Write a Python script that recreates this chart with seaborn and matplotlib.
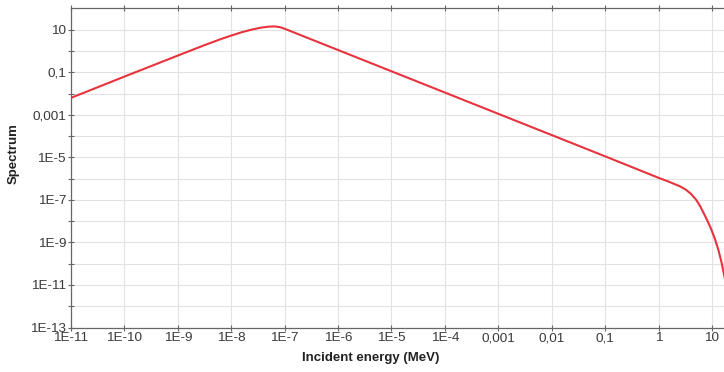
import matplotlib
matplotlib.use('Agg')
import matplotlib.pyplot as plt
from matplotlib.ticker import FixedLocator, FixedFormatter, NullFormatter
import seaborn as sns
import numpy as np
import pandas as pd

# points (log10 of energy in MeV, log10 of spectrum)
log_energy = [-11.0, -10.0, -9.0, -8.5, -8.2, -8.0, -7.8, -7.6, -7.45, -7.3, -7.18,
              -7.08, -7.0, -6.9, -6.0, -5.0, -4.0, -3.0, -2.0, -1.0, 0.0, 0.2, 0.4,
              0.5, 0.6, 0.7, 0.78, 0.87, 0.97, 1.05, 1.12, 1.18, 1.25]
log_spectrum = [-2.2, -1.2, -0.21, 0.28, 0.56, 0.73, 0.89, 1.02, 1.1, 1.15, 1.16,
                1.12, 1.05, 0.95, 0.05, -0.95, -1.95, -2.95, -3.95, -4.95, -5.96, -6.15, -6.36,
                -6.5, -6.7, -6.98, -7.3, -7.75, -8.28, -8.8, -9.35, -9.95, -10.8]

x_ticks = [1e-11, 1e-10, 1e-9, 1e-8, 1e-7, 1e-6, 1e-5, 1e-4, 1e-3, 1e-2, 1e-1, 1, 10]
x_labels = ['1E-11', '1E-10', '1E-9', '1E-8', '1E-7', '1E-6', '1E-5', '1E-4',
            '0,001', '0,01', '0,1', '1', '10']
y_ticks = [10, 1e-1, 1e-3, 1e-5, 1e-7, 1e-9, 1e-11, 1e-13]
y_labels = ['10', '0,1', '0,001', '1E-5', '1E-7', '1E-9', '1E-11', '1E-13']
y_minor = [1e1 / 10 ** (2 * i + 1) for i in range(7)]

df = pd.DataFrame({'energy': np.power(10.0, log_energy),
                   'spectrum': np.power(10.0, log_spectrum)})

sns.set_style('white')
plt.rcParams['font.family'] = ['Liberation Sans', 'DejaVu Sans']

fig = plt.figure(figsize=(7.24, 3.72), dpi=100)
ax = fig.add_axes([71 / 724, 44.5 / 372, 1 - 71 / 724, 1 - 52 / 372])
sns.lineplot(data=df, x='energy', y='spectrum', ax=ax, color='#e8333d', linewidth=1.5)

ax.set_xscale('log')
ax.set_yscale('log')
ax.set_xlim(1e-11, 10 ** 1.225)
ax.set_ylim(1e-13, 10 ** 2.05)

ax.xaxis.set_major_locator(FixedLocator(x_ticks))
ax.xaxis.set_major_formatter(FixedFormatter(x_labels))
ax.xaxis.set_minor_locator(FixedLocator([]))
ax.yaxis.set_major_locator(FixedLocator(y_ticks))
ax.yaxis.set_major_formatter(FixedFormatter(y_labels))
ax.yaxis.set_minor_locator(FixedLocator(y_minor))
ax.yaxis.set_minor_formatter(NullFormatter())

ax.grid(True, which='both', color='#e2e2e2', linewidth=0.8)
ax.tick_params(which='both', direction='inout', length=5, width=0.8, color='#666666',
               labelsize=9.7, labelcolor='#3a3a3a', top=True, left=True, bottom=True)
ax.tick_params(axis='x', pad=1)
ax.tick_params(axis='y', pad=1)
for side in ['left', 'bottom', 'top']:
    ax.spines[side].set_color('#666666')
    ax.spines[side].set_linewidth(0.9)
ax.spines['right'].set_visible(False)

ax.set_xlabel('Incident energy (MeV)', fontsize=9.5, fontweight='bold', color='#222222')
ax.set_ylabel('Spectrum', fontsize=9.5, fontweight='bold', color='#222222')
ax.xaxis.set_label_coords(0.459, -0.075)
ax.yaxis.set_label_coords(-0.078, 0.543)

fig.savefig('out.png', dpi=100)
